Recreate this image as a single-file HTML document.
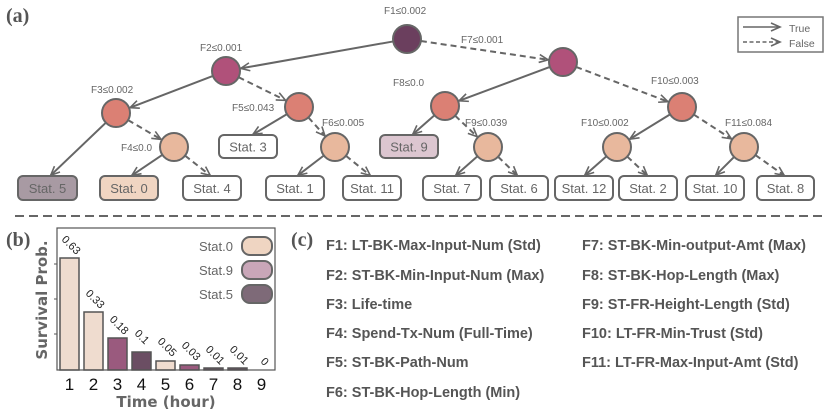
<!DOCTYPE html>
<html><head><meta charset="utf-8"><style>
html,body{margin:0;padding:0;background:#fff}
svg{display:block}
text{font-family:"Liberation Sans",sans-serif}
</style></head><body>
<svg id="s" width="830" height="413" viewBox="0 0 830 413" xmlns="http://www.w3.org/2000/svg">
<defs>
<marker id="ar" markerWidth="12" markerHeight="10" refX="10" refY="5" orient="auto" markerUnits="userSpaceOnUse">
<path d="M1,1 L10,5 L1,9" fill="none" stroke="#666" stroke-width="1.6"/>
</marker>
</defs>
<text x="6" y="22" font-weight="bold" font-size="20" fill="#555" style="font-family:'Liberation Serif',serif">(a)</text>
<g id="edges" stroke="#666" stroke-width="2" fill="none"></g>
<g stroke="#666" stroke-width="2">
<circle cx="407" cy="39" r="14" fill="#6b3f5e"/>
<circle cx="226" cy="71" r="14" fill="#b0517a"/>
<circle cx="563" cy="62" r="14" fill="#b0517a"/>
<circle cx="116" cy="113" r="14" fill="#db8074"/>
<circle cx="299" cy="107" r="14" fill="#db8074"/>
<circle cx="445" cy="106" r="14" fill="#db8074"/>
<circle cx="682" cy="107" r="14" fill="#db8074"/>
<circle cx="174" cy="147" r="14" fill="#e8b89d"/>
<circle cx="335" cy="147" r="14" fill="#e8b89d"/>
<circle cx="488" cy="147" r="14" fill="#e8b89d"/>
<circle cx="617" cy="147" r="14" fill="#e8b89d"/>
<circle cx="744" cy="147" r="14" fill="#e8b89d"/>
<rect x="18" y="176" width="59" height="24" rx="5" fill="#a89aa3"/>
<rect x="100" y="176" width="58" height="24" rx="5" fill="#f0d5c2"/>
<rect x="183" y="176" width="58" height="24" rx="5" fill="#fff"/>
<rect x="266" y="176" width="58" height="24" rx="5" fill="#fff"/>
<rect x="343" y="176" width="58" height="24" rx="5" fill="#fff"/>
<rect x="219" y="135" width="58" height="23" rx="5" fill="#fff"/>
<rect x="380" y="135" width="58" height="23" rx="5" fill="#dcc6d0"/>
<rect x="423" y="176" width="58" height="24" rx="5" fill="#fff"/>
<rect x="490" y="176" width="58" height="24" rx="5" fill="#fff"/>
<rect x="555" y="176" width="58" height="24" rx="5" fill="#fff"/>
<rect x="619" y="176" width="58" height="24" rx="5" fill="#fff"/>
<rect x="686" y="176" width="58" height="24" rx="5" fill="#fff"/>
<rect x="757" y="176" width="57" height="24" rx="5" fill="#fff"/>
</g>
<g font-size="13" fill="#666" text-anchor="middle">
<text x="47.5" y="193">Stat. 5</text>
<text x="129" y="193">Stat. 0</text>
<text x="212" y="193">Stat. 4</text>
<text x="295" y="193">Stat. 1</text>
<text x="372" y="193">Stat. 11</text>
<text x="248" y="151.5">Stat. 3</text>
<text x="409" y="151.5">Stat. 9</text>
<text x="452" y="193">Stat. 7</text>
<text x="519" y="193">Stat. 6</text>
<text x="584" y="193">Stat. 12</text>
<text x="648" y="193">Stat. 2</text>
<text x="715" y="193">Stat. 10</text>
<text x="785.5" y="193">Stat. 8</text>
</g>
<g font-size="10" fill="#666">
<text x="384" y="14">F1≤0.002</text>
<text x="200" y="51">F2≤0.001</text>
<text x="461" y="43">F7≤0.001</text>
<text x="91" y="93">F3≤0.002</text>
<text x="232" y="111">F5≤0.043</text>
<text x="393" y="86">F8≤0.0</text>
<text x="651" y="84">F10≤0.003</text>
<text x="121" y="151">F4≤0.0</text>
<text x="322" y="126">F6≤0.005</text>
<text x="465" y="126">F9≤0.039</text>
<text x="581" y="126">F10≤0.002</text>
<text x="725" y="126">F11≤0.084</text>
</g>
<rect x="738" y="17" width="85" height="35" fill="#fff" stroke="#777" stroke-width="1.5"/>
<line x1="743" y1="27" x2="780" y2="27" stroke="#666" stroke-width="1.6" marker-end="url(#ar)"/>
<line x1="743" y1="42" x2="780" y2="42" stroke="#666" stroke-width="1.6" stroke-dasharray="4,2.5" marker-end="url(#ar)"/>
<text x="789" y="32" font-size="10.5" fill="#666">True</text>
<text x="789" y="47" font-size="10.5" fill="#666">False</text>
<line x1="15" y1="216" x2="822" y2="216" stroke="#666" stroke-width="2" stroke-dasharray="9,5"/>

<text x="6" y="246" font-weight="bold" font-size="20" fill="#555" style="font-family:'Liberation Serif',serif">(b)</text>
<g stroke="#555" stroke-width="1.5">
<rect x="60" y="258" width="19" height="112" fill="#efdccf"/>
<rect x="84" y="312" width="19" height="58" fill="#efdccf"/>
<rect x="108" y="338" width="19" height="32" fill="#9a5a7e"/>
<rect x="132" y="352" width="19" height="18" fill="#6b4e63"/>
<rect x="156" y="361" width="19" height="9" fill="#efdccf"/>
<rect x="180" y="365" width="19" height="5" fill="#9a5a7e"/>
<rect x="204" y="368" width="19" height="2" fill="#6b4e63"/>
<rect x="228" y="368" width="19" height="2" fill="#6b4e63"/>
</g>
<rect x="57" y="228" width="218" height="142" fill="none" stroke="#555" stroke-width="1.2"/>
<g stroke="#555" stroke-width="1"><line x1="54" y1="264" x2="57" y2="264"/><line x1="54" y1="299" x2="57" y2="299"/><line x1="54" y1="334" x2="57" y2="334"/></g>
<g font-size="11" fill="#222" style="font-family:'DejaVu Sans',sans-serif">
<text transform="translate(61,240) rotate(45)">0.63</text>
<text transform="translate(85,294) rotate(45)">0.33</text>
<text transform="translate(109,320) rotate(45)">0.18</text>
<text transform="translate(134,334) rotate(45)">0.1</text>
<text transform="translate(157,342) rotate(45)">0.05</text>
<text transform="translate(181,346) rotate(45)">0.03</text>
<text transform="translate(205,350) rotate(45)">0.01</text>
<text transform="translate(229,350) rotate(45)">0.01</text>
<text transform="translate(260,362) rotate(45)">0</text>
</g>
<g font-size="13" fill="#666">
<text x="199" y="251">Stat.0</text>
<text x="199" y="275">Stat.9</text>
<text x="199" y="299">Stat.5</text>
</g>
<g stroke="#666" stroke-width="2">
<rect x="242" y="237" width="30" height="18" rx="8" fill="#efd5c2"/>
<rect x="242" y="261" width="30" height="18" rx="8" fill="#c9a6b8"/>
<rect x="242" y="285" width="30" height="18" rx="8" fill="#7e6a78"/>
</g>
<g font-size="17" fill="#111" text-anchor="middle" style="font-family:'DejaVu Sans',sans-serif">
<text x="69.5" y="390">1</text><text x="93.5" y="390">2</text><text x="117.5" y="390">3</text>
<text x="141.5" y="390">4</text><text x="165.5" y="390">5</text><text x="189.5" y="390">6</text>
<text x="213.5" y="390">7</text><text x="237.5" y="390">8</text><text x="261.5" y="390">9</text>
</g>
<text x="166" y="407" text-anchor="middle" font-size="15" font-weight="bold" fill="#666" style="font-family:'DejaVu Sans',sans-serif">Time (hour)</text>
<text transform="translate(47,300) rotate(-90)" text-anchor="middle" font-size="15" font-weight="bold" fill="#666" style="font-family:'DejaVu Sans',sans-serif">Survival Prob.</text>

<text x="291" y="246" font-weight="bold" font-size="20" fill="#555" style="font-family:'Liberation Serif',serif">(c)</text>
<g font-size="14.5" font-weight="bold" fill="#555">
<text x="326" y="250">F1: LT-BK-Max-Input-Num (Std)</text>
<text x="326" y="280">F2: ST-BK-Min-Input-Num (Max)</text>
<text x="326" y="309">F3: Life-time</text>
<text x="326" y="338">F4: Spend-Tx-Num (Full-Time)</text>
<text x="326" y="367">F5: ST-BK-Path-Num</text>
<text x="326" y="397">F6: ST-BK-Hop-Length (Min)</text>
<text x="582" y="250">F7: ST-BK-Min-output-Amt (Max)</text>
<text x="582" y="280">F8: ST-BK-Hop-Length (Max)</text>
<text x="582" y="309">F9: ST-FR-Height-Length (Std)</text>
<text x="582" y="338">F10: LT-FR-Min-Trust (Std)</text>
<text x="582" y="367">F11: LT-FR-Max-Input-Amt (Std)</text>
</g>
</svg>
<script>
var C={F1:[407,39],F2:[226,71],F7:[563,62],F3:[116,113],F5:[299,107],F8:[445,106],F10:[682,107],F4:[174,147],F6:[335,147],F9:[488,147],Fb:[617,147],F11:[744,147]};
var E=[["F1","F2",0],["F1","F7",1],["F2","F3",0],["F2","F5",1],["F3",[50,176],0],["F3","F4",1],["F4",[131,176],0],["F4",[211,176],1],
["F5",[252,135],0],["F5","F6",1],["F6",[297,176],0],["F6",[371,176],1],["F7","F8",0],["F7","F10",1],["F8",[412,135],0],["F8","F9",1],
["F9",[455,176],0],["F9",[518,176],1],["F10","Fb",0],["F10","F11",1],["Fb",[584,176],0],["Fb",[648,176],1],["F11",[715,176],0],["F11",[785,176],1]];
var g=document.getElementById("edges"),ns="http://www.w3.org/2000/svg";
E.forEach(function(e){var a=C[e[0]],b,rb=0;if(typeof e[1]=="string"){b=C[e[1]];rb=15;}else{b=e[1];rb=1;}
var dx=b[0]-a[0],dy=b[1]-a[1],L=Math.hypot(dx,dy),ux=dx/L,uy=dy/L;
var l=document.createElementNS(ns,"line");l.setAttribute("x1",a[0]+ux*14);l.setAttribute("y1",a[1]+uy*14);
l.setAttribute("x2",b[0]-ux*rb);l.setAttribute("y2",b[1]-uy*rb);l.setAttribute("marker-end","url(#ar)");
if(e[2])l.setAttribute("stroke-dasharray","6,4");g.appendChild(l);});
</script>
</body></html>
